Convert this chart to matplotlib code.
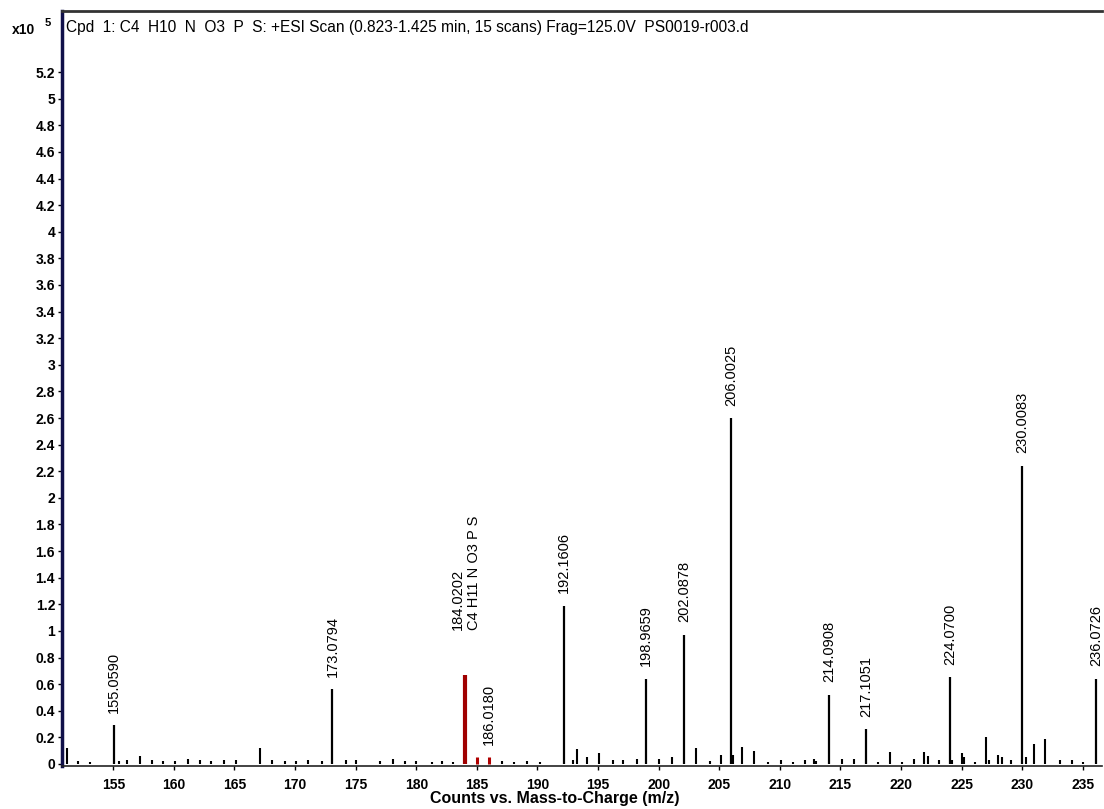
import numpy as np
import matplotlib.pyplot as plt

plt.rcParams['font.family'] = ['Liberation Sans', 'DejaVu Sans']

# labelled peaks (m/z, counts x10^5)
peak_mz = [155.0590, 173.0794, 192.1606, 198.9659, 202.0878, 206.0025,
           214.0908, 217.1051, 224.0700, 230.0083, 236.0726]
peak_int = [0.29, 0.56, 1.19, 0.64, 0.97, 2.60, 0.52, 0.26, 0.65, 2.24, 0.64]
peak_lbl = ['155.0590', '173.0794', '192.1606', '198.9659', '202.0878',
            '206.0025', '214.0908', '217.1051', '224.0700', '230.0083',
            '236.0726']

# compound isotope cluster (drawn in red)
cpd_mz = [184.0202, 185.02, 186.0180]
cpd_int = [0.67, 0.055, 0.05]
cpd_lbl = ['184.0202\nC4 H11 N O3 P S', '', '186.0180']

# unlabelled background peaks
minor_mz = [151.15, 152.1, 153.1, 155.5, 156.1, 157.2, 158.2, 159.1, 160.1,
            161.2, 162.15, 163.1, 164.1, 165.1, 167.1, 168.1, 169.2, 170.1,
            171.1, 172.2, 174.2, 175.0, 177.0, 178.1, 179.1, 180.0, 181.3,
            182.1, 183.05, 187.05, 188.1, 189.1, 190.2, 192.95, 193.3, 194.05,
            195.1, 196.2, 197.1, 198.2, 200.05, 201.1, 203.1, 204.2, 205.15,
            206.15, 206.9, 207.9, 209.0, 210.1, 211.05, 212.1, 212.85, 213.0,
            215.1, 216.1, 218.1, 219.1, 220.1, 221.05, 221.9, 222.2, 223.1,
            224.2, 225.0, 225.2, 226.1, 227.0, 227.3, 228.0, 228.3, 229.05,
            230.3, 231.0, 231.9, 233.1, 234.1, 235.0]
minor_int = [0.12, 0.02, 0.015, 0.02, 0.03, 0.06, 0.03, 0.02, 0.02,
             0.04, 0.03, 0.025, 0.03, 0.03, 0.12, 0.03, 0.02, 0.025,
             0.03, 0.02, 0.03, 0.03, 0.02, 0.04, 0.02, 0.02, 0.015,
             0.025, 0.015, 0.025, 0.015, 0.025, 0.015, 0.03, 0.11, 0.05,
             0.08, 0.03, 0.03, 0.04, 0.04, 0.05, 0.12, 0.02, 0.07,
             0.07, 0.13, 0.10, 0.015, 0.03, 0.015, 0.03, 0.04, 0.02,
             0.04, 0.04, 0.015, 0.09, 0.015, 0.04, 0.09, 0.06, 0.03,
             0.03, 0.08, 0.05, 0.015, 0.20, 0.03, 0.07, 0.05, 0.03,
             0.05, 0.15, 0.19, 0.03, 0.03, 0.015]

title = ('Cpd  1: C4  H10  N  O3  P  S: +ESI Scan (0.823-1.425 min, 15 scans) '
         'Frag=125.0V  PS0019-r003.d')

fig = plt.figure(figsize=(11.04, 8.09), dpi=100)
ax = fig.add_axes([0.0562, 0.0532, 0.9418, 0.9333])

ax.vlines(minor_mz, 0, minor_int, color='black', lw=1.5)
ax.vlines(peak_mz, 0, peak_int, color='black', lw=1.6)
ax.vlines(cpd_mz[0], 0, cpd_int[0], color='#a00000', lw=3)
ax.vlines(cpd_mz[1:], 0, cpd_int[1:], color='#b00000', lw=2.2)

for x, y, s in zip(peak_mz, peak_int, peak_lbl):
    ax.annotate(s, (x, y), xytext=(0, 9), textcoords='offset points',
                rotation=90, ha='center', va='bottom', fontsize=10.5)
ax.annotate(cpd_lbl[0], (cpd_mz[0], cpd_int[0]), xytext=(1, 32),
            textcoords='offset points', rotation=90, ha='center',
            va='bottom', fontsize=10.5, multialignment='left')
ax.annotate(cpd_lbl[2], (cpd_mz[2], cpd_int[2]), xytext=(0, 9),
            textcoords='offset points', rotation=90, ha='center',
            va='bottom', fontsize=10.5)

ax.set_xlim(150.77, 236.57)
ax.set_ylim(-0.015, 5.66)
ax.set_xticks(np.arange(155, 236, 5))
yt = np.round(np.arange(0, 5.21, 0.2), 1)
ax.set_yticks(yt)
ax.set_yticklabels(['%g' % v for v in yt])
ax.tick_params(axis='both', direction='out', length=3, width=1,
               labelsize=10)
ax.tick_params(axis='x', pad=6)
ax.tick_params(axis='y', pad=2)
for lab in ax.get_xticklabels() + ax.get_yticklabels():
    lab.set_fontweight('bold')

ax.spines['right'].set_visible(False)
ax.spines['top'].set_color('#333333')
ax.spines['top'].set_linewidth(2)
ax.spines['left'].set_color('#10104a')
ax.spines['left'].set_linewidth(2.5)
ax.spines['bottom'].set_color('#222222')
ax.spines['bottom'].set_linewidth(1.2)

ax.text(0.004, 0.978, title, transform=ax.transAxes, fontsize=11.2,
        ha='left', va='center')
fig.text(0.011, 0.963, 'x10', fontsize=10, fontweight='bold',
         ha='left', va='center')
fig.text(0.040, 0.972, '5', fontsize=8, fontweight='bold',
         ha='left', va='center')
ax.set_xlabel('Counts vs. Mass-to-Charge (m/z)', fontsize=11.5,
              fontweight='bold')
ax.xaxis.set_label_coords(0.474, -0.033)

fig.savefig('out.png', dpi=100)
